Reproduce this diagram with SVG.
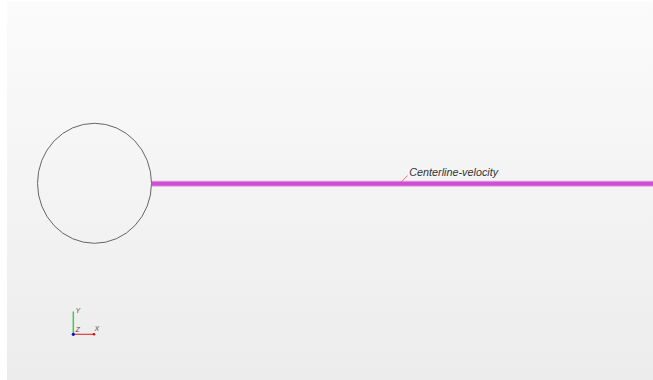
<svg xmlns="http://www.w3.org/2000/svg" width="653" height="380" viewBox="0 0 653 380">
<defs>
<linearGradient id="bg" x1="0" y1="0" x2="0" y2="1">
<stop offset="0" stop-color="#fbfbfb"/>
<stop offset="1" stop-color="#ececec"/>
</linearGradient>
</defs>
<style>
.lbl{font-family:"Liberation Sans",Arial,sans-serif;font-style:italic;fill:#333}
.ax{font-family:"Liberation Sans",Arial,sans-serif;font-style:italic;font-size:7px;fill:#555}
</style>
<rect x="0" y="0" width="653" height="380" fill="#ffffff"/>
<rect x="7" y="2" width="646" height="378" fill="url(#bg)"/>
<g id="cylinder">
<ellipse cx="94.5" cy="183.3" rx="57" ry="60" fill="none" stroke="#555" stroke-width="0.9"/>
</g>
<g id="connectors">
<rect x="152" y="180.7" width="501" height="6" fill="#e7a6ea"/>
<rect x="152" y="181.7" width="501" height="4" fill="#cf4fd3"/>
<line x1="400" y1="183.3" x2="407.5" y2="175.5" stroke="#e8566a" stroke-width="0.8"/>
</g>
<g id="label">
<text class="lbl" x="409.3" y="175.7" font-size="10.8">Centerline-velocity</text>
</g>
<g id="axes">
<line x1="73.3" y1="334.3" x2="73.3" y2="311.5" stroke="#44cc44" stroke-width="1.5"/>
<line x1="73.3" y1="334.3" x2="94" y2="334.3" stroke="#e03a3a" stroke-width="1.2"/>
<circle cx="94" cy="334.3" r="1.3" fill="#d01010"/>
<circle cx="73.3" cy="334.3" r="1.6" fill="#1010c0"/>
<text class="ax" x="75.5" y="313">Y</text>
<text class="ax" x="75.5" y="332">Z</text>
<text class="ax" x="94.5" y="331">X</text>
</g>
</svg>
